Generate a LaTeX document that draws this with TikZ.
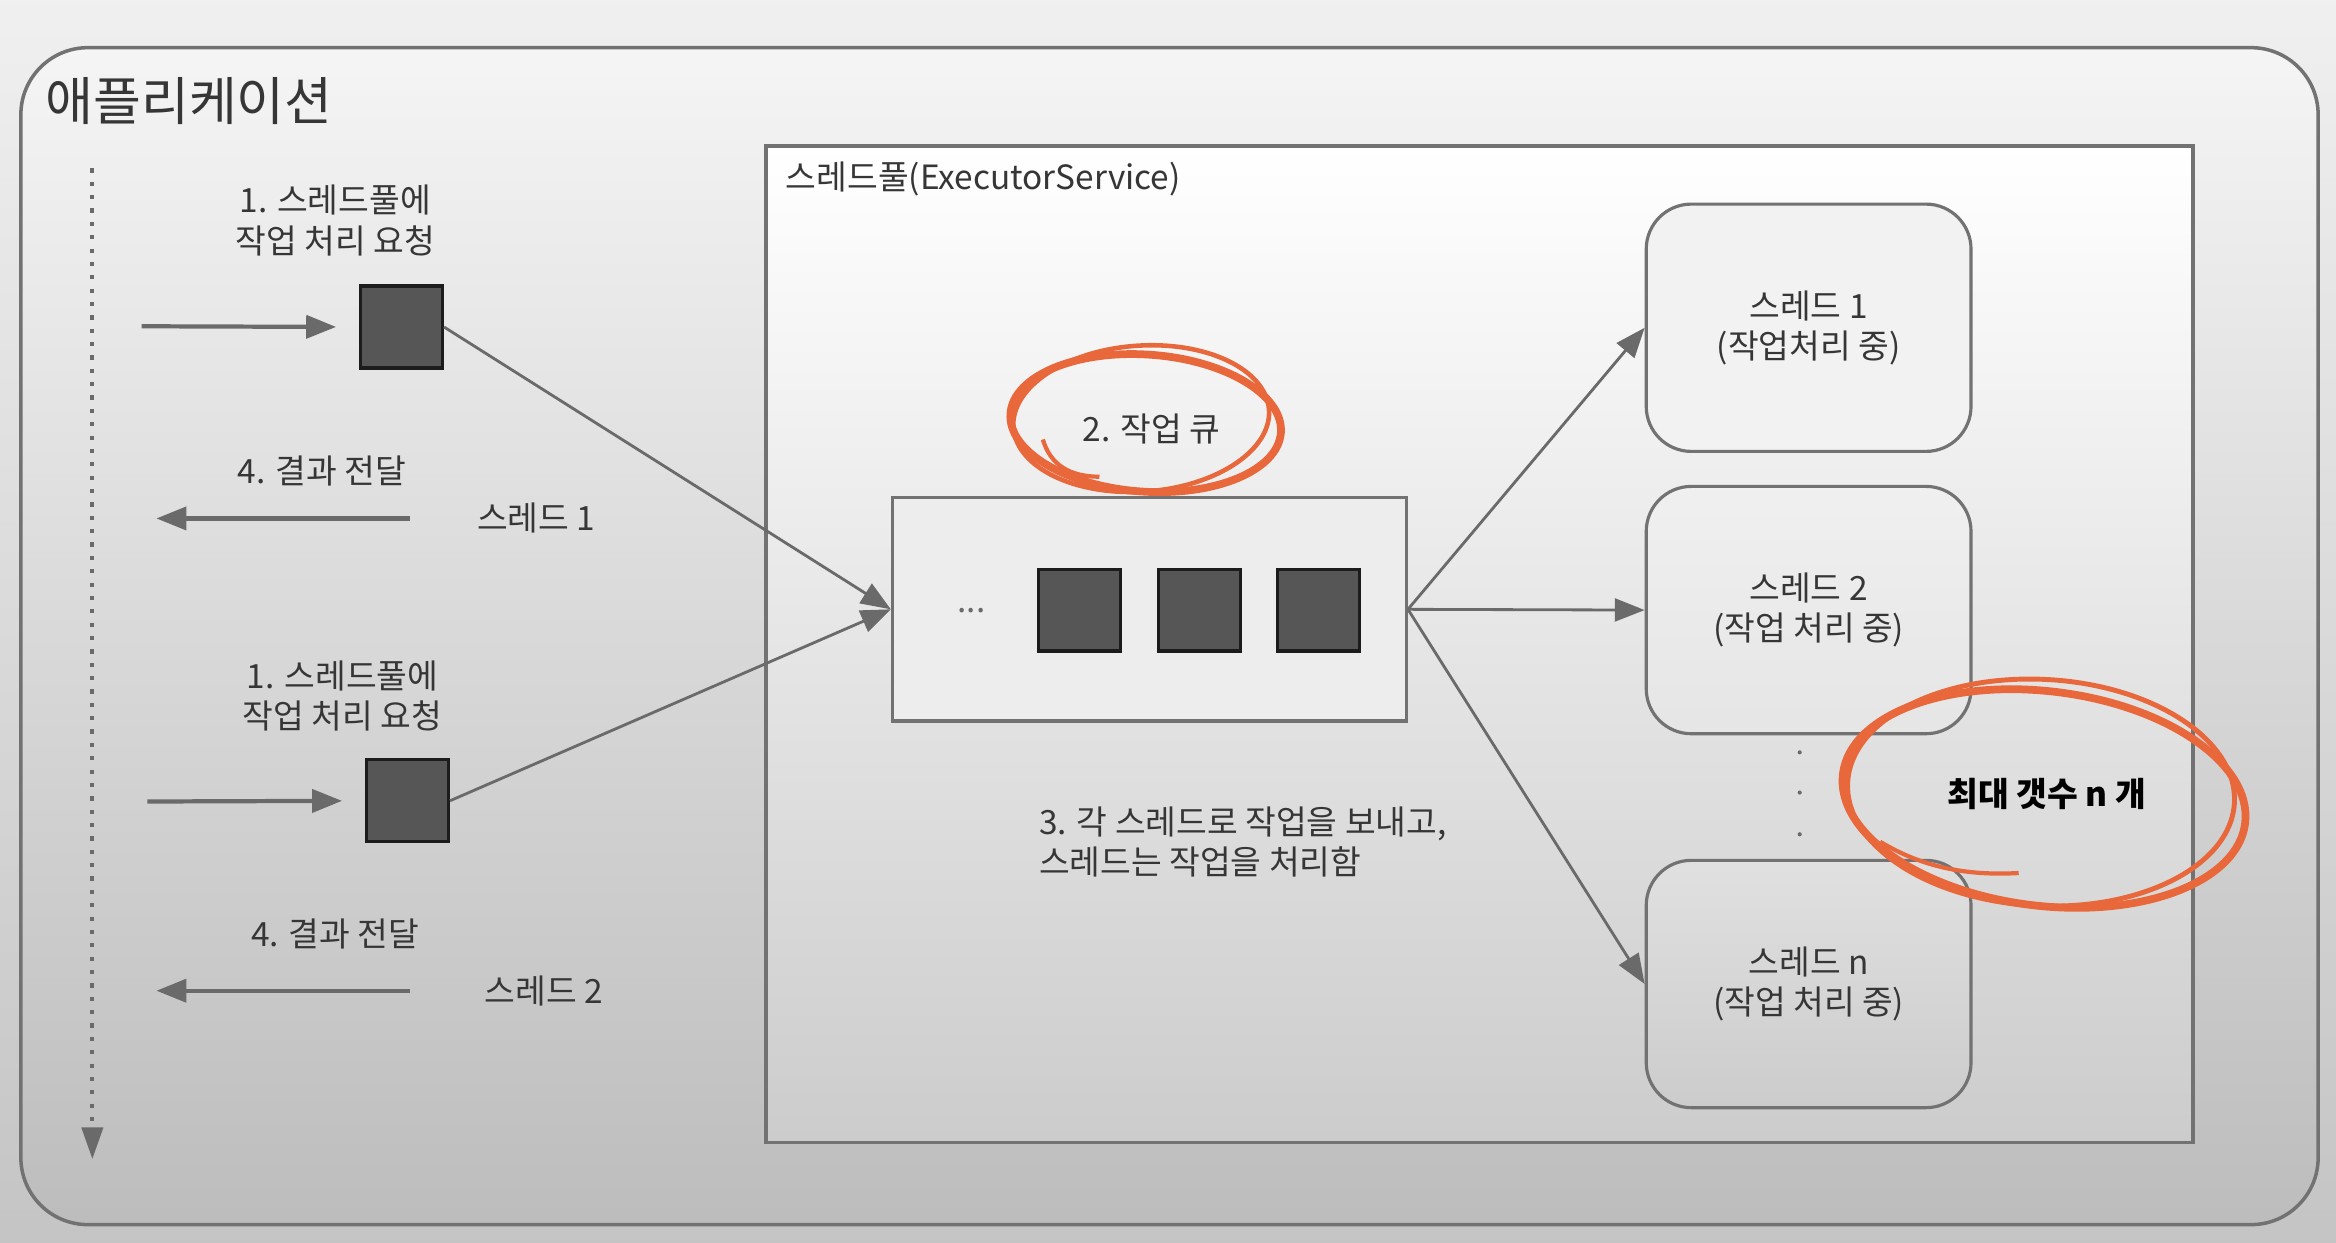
\documentclass[tikz,border=0pt]{standalone}
\usepackage{fontspec}
\setmainfont{Noto Sans CJK KR}
\usetikzlibrary{arrows.meta}
\definecolor{lg}{HTML}{6A6A6A}
\definecolor{bd}{HTML}{727272}
\definecolor{txtc}{HTML}{363636}
\definecolor{sqf}{HTML}{565656}
\definecolor{sqd}{HTML}{1C1C1C}
\definecolor{orng}{HTML}{E8683C}
\begin{document}
\begin{tikzpicture}[x=0.0149cm,y=-0.0149cm,
  txt/.style={font=\fontsize{9.5}{11.4}\selectfont, text=txtc, inner sep=0pt},
  arr/.style={draw=lg, line width=0.8pt, -{Triangle[length=8.5pt,width=6.5pt]}},
  bigarr/.style={draw=lg, line width=1.2pt, -{Triangle[length=8.5pt,width=6.5pt]}},
  sqbox/.style={draw=sqd, fill=sqf, line width=0.9pt, minimum size=55*0.0149cm, inner sep=0pt},
  thr/.style={txt, draw=bd, line width=0.9pt, rounded corners=0.45cm, minimum width=218*0.0149cm, minimum height=166*0.0149cm, align=center},
  ring/.style={draw=orng, line width=2.2pt}
]
\useasboundingbox (0,0) rectangle (1568,834);
% page background
\shade[top color=white!94!black, middle color=white!92!black, bottom color=white!77!black] (0,0) rectangle (1568,834);
% outer application box
\node[draw=bd, line width=1pt, rounded corners=0.67cm, shading=axis, top color=white!96!black, middle color=white!93!black, bottom color=white!74!black, minimum width=1542*0.0149cm, minimum height=790*0.0149cm, inner sep=0pt] (app) at (785,427) {};
\node[anchor=west, font=\fontsize{14.8}{17}\selectfont, text=txtc, inner sep=0pt] (apptitle) at (30,68) {애플리케이션};
% thread pool
\node[draw=bd, line width=1pt, shading=axis, top color=white, middle color=white!98!black, bottom color=white!80!black, minimum width=958*0.0149cm, minimum height=669*0.0149cm, inner sep=0pt] (pool) at (993,432.5) {};
\node[txt, anchor=west] (pooltitle) at (527,120) {스레드풀(ExecutorService)};
% time line
\coordinate (tl1) at (62,113);
\coordinate (tl2) at (62,778);
\draw[draw=lg, line width=1.1pt, dash pattern=on 1.2pt off 2.6pt, -{Triangle[length=9pt,width=6pt]}] (tl1) -- (tl2);
% request 1
\node[txt, align=center] (req1) at (225,148) {1. 스레드풀에\\작업 처리 요청};
\node[sqbox] (sq1) at (269.5,219.5) {};
\coordinate (in1) at (95,219);
\draw[bigarr, shorten >=6.5pt] (in1) -- (sq1.west);
\node[txt] (res1) at (216,316) {4. 결과 전달};
\node[txt] (th1lbl) at (360,348) {스레드 1};
\coordinate (r1s) at (275,348);
\coordinate (r1e) at (105,348);
\draw[bigarr] (r1s) -- (r1e);
% request 2
\node[txt, align=center] (req2) at (230,467) {1. 스레드풀에\\작업 처리 요청};
\node[sqbox] (sq2) at (273.5,537.5) {};
\coordinate (in2) at (99,538);
\draw[bigarr, shorten >=6.5pt] (in2) -- (sq2.west);
\node[txt] (res2) at (225,627) {4. 결과 전달};
\node[txt] (th2lbl) at (365,665) {스레드 2};
\coordinate (r2s) at (275,665);
\coordinate (r2e) at (105,665);
\draw[bigarr] (r2s) -- (r2e);
% queue
\node[draw=bd, line width=0.9pt, fill=white!93!black, minimum width=345*0.0149cm, minimum height=150*0.0149cm, inner sep=0pt] (queue) at (771.5,409) {};
\node[txt, text=lg] (dots) at (652,410) {...};
\node[sqbox] (q1) at (724.5,409.5) {};
\node[sqbox] (q2) at (805,409.5) {};
\node[sqbox] (q3) at (885,409.5) {};
\node[txt] (qlbl) at (773,288) {2. 작업 큐};
% threads
\node[thr, fill=white!95!black] (t1) at (1214,220) {스레드 1\\(작업처리 중)};
\node[thr, shading=axis, top color=white!94!black, bottom color=white!90!black] (t2) at (1214,409.5) {스레드 2\\(작업 처리 중)};
\node[thr, shading=axis, top color=white!88!black, bottom color=white!80!black] (tn) at (1214,660.5) {스레드 n\\(작업 처리 중)};
\foreach \yy/\nm in {505/d1,532/d2,560/d3} \fill[lg] (1208,\yy) circle (1.4) coordinate (\nm);
% connectors
\draw[arr] (sq1.east) -- (queue.west);
\draw[arr] (sq2.east) -- (queue.west);
\draw[arr] (queue.east) -- (t1.west);
\draw[arr] (queue.east) -- (t2.west);
\draw[arr] (queue.east) -- (tn.west);
% description
\node[txt, anchor=north west, align=left] (desc) at (697,541) {3. 각 스레드로 작업을 보내고,\\스레드는 작업을 처리함};
\node[font=\fontsize{9.5}{11.4}\selectfont\bfseries, text=black, inner sep=0pt] (maxn) at (1374,533) {최대 갯수 n 개};
% hand-drawn rings
\draw[ring] (769,284) ellipse [x radius=91, y radius=46, rotate=-4];
\draw[ring, line width=1.3pt] (766,281) ellipse [x radius=86, y radius=49, rotate=4];
\draw[ring, line width=1.2pt] (700,295) .. controls (705,312) and (718,320) .. (738,320);
\draw[ring] (1372,536) ellipse [x radius=136, y radius=72, rotate=-7];
\draw[ring, line width=1.4pt] (1370,532) ellipse [x radius=130, y radius=76, rotate=-3];
\draw[ring, line width=1.2pt] (1262,565) .. controls (1290,582) and (1320,588) .. (1355,586);
\end{tikzpicture}
\end{document}
